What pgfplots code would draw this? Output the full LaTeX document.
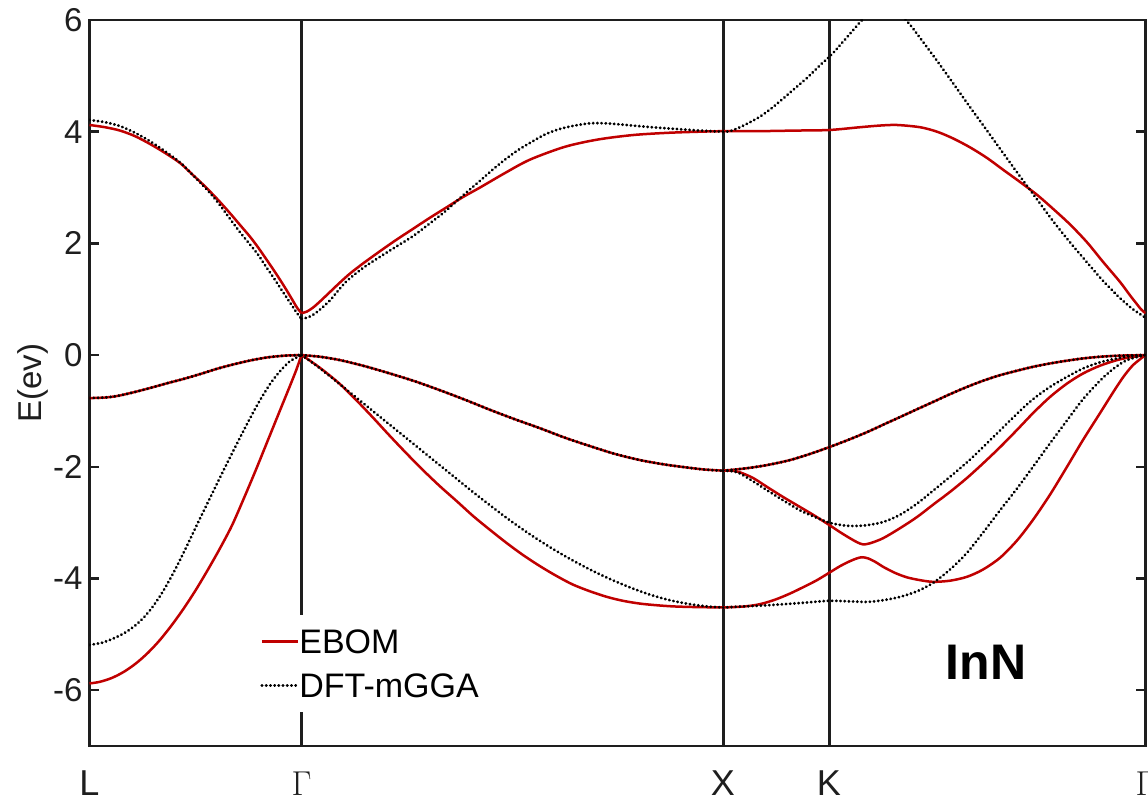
\documentclass[border=0pt]{standalone}
\usepackage{fontspec}
\setmainfont{Liberation Sans}
\usepackage{pgfplots}
\pgfplotsset{compat=1.18}
\definecolor{ebomred}{RGB}{192,0,0}
\definecolor{frame}{RGB}{30,30,30}
\tikzset{
  ebom/.style={color=ebomred, line width=1.25pt},
  dft/.style={color=black, line width=1.45pt, dash pattern=on 0.15pt off 1.95pt, line cap=round},
}
\begin{document}
\begin{tikzpicture}
\begin{axis}[
  scale only axis, width=528pt, height=363pt,
  xmin=89.5, xmax=1145.5, ymin=-7, ymax=6,
  xtick={89.5,301.5,723,829,1145.5},
  xticklabels={L,$\Gamma$,X,K,$\Gamma$},
  ytick={-6,-4,-2,0,2,4,6},
  tick align=inside, tick pos=both,
  major tick length=5pt,
  xtick style={draw=none},
  ytick style={line width=1.2pt, color=frame},
  axis line style={line width=1.4pt, color=frame},
  yticklabel style={font=\fontsize{16.5}{19}\selectfont, color=frame, /pgf/number format/assume math mode=true},
  xticklabel style={font=\fontsize{18}{21}\selectfont, color=frame, anchor=base, yshift=-24.5pt},
  every axis plot/.append style={smooth, tension=0.5},
  legend image code/.code={\draw[#1] (0pt,0pt) -- (18pt,0pt);},
  legend style={at={(0.1558,0.1804)}, anchor=north west, draw=none, fill=white,
    inner xsep=3pt, inner ysep=7pt, row sep=10.3pt,
    font=\fontsize{17}{20}\selectfont,
    nodes={inner sep=0pt, text depth=0pt},
    cells={anchor=west}},
]
\draw[line width=1.5pt, color=frame] (axis cs:301.5,-7) -- (axis cs:301.5,6);
\draw[line width=1.5pt, color=frame] (axis cs:723,-7) -- (axis cs:723,6);
\draw[line width=1.5pt, color=frame] (axis cs:829,-7) -- (axis cs:829,6);
\coordinate (yl) at (rel axis cs:0,0.5);

% ================= EBOM =================
% conduction band L-Gamma
\addplot[ebom, forget plot] table {
89.5 4.12
105 4.08
120 4.02
135 3.92
150 3.78
165 3.62
180 3.44
192 3.24
205 3.02
218 2.78
230 2.54
240 2.33
250 2.12
258 1.93
265 1.75
273 1.54
280 1.35
287 1.15
293 0.97
297 0.85
301.5 0.75
};
% conduction band Gamma-X
\addplot[ebom, forget plot] table {
301.5 0.75
307 0.78
313 0.85
320 0.96
330 1.13
340 1.30
350 1.46
363 1.64
380 1.86
396 2.06
413 2.26
430 2.46
447 2.65
463 2.83
480 3.00
505 3.26
530 3.50
565 3.73
598 3.86
633 3.94
668 3.98
700 4.00
723 4.01
};
% conduction band X-K-Gamma
\addplot[ebom, forget plot] table {
723 4.01
760 4.01
795 4.02
829 4.03
860 4.08
880 4.11
897 4.12
920 4.08
937 4.00
953 3.88
970 3.72
987 3.53
1003 3.32
1020 3.10
1037 2.87
1053 2.62
1070 2.34
1087 2.02
1103 1.67
1120 1.31
1130 1.07
1137 0.91
1141 0.82
1145.5 0.75
};
% VB1 L-Gamma
\addplot[ebom, forget plot] table {
89.5 -0.77
105 -0.76
118 -0.73
135 -0.66
152 -0.58
168 -0.50
185 -0.42
202 -0.33
218 -0.24
235 -0.16
252 -0.09
268 -0.04
285 -0.01
301.5 0
};
% VB1 Gamma-X
\addplot[ebom, forget plot] table {
301.5 0
320 -0.03
340 -0.09
365 -0.20
390 -0.33
415 -0.47
440 -0.63
465 -0.80
490 -0.98
515 -1.15
540 -1.31
565 -1.48
590 -1.63
615 -1.77
640 -1.88
665 -1.96
690 -2.02
705 -2.05
723 -2.07
};
% VB1 X-K-Gamma
\addplot[ebom, forget plot] table {
723 -2.07
745 -2.03
767 -1.97
790 -1.88
810 -1.77
829 -1.65
848 -1.52
867 -1.38
884 -1.24
900 -1.11
917 -0.97
933 -0.84
950 -0.70
967 -0.57
983 -0.46
1000 -0.36
1017 -0.28
1033 -0.21
1050 -0.15
1067 -0.10
1083 -0.06
1100 -0.03
1120 -0.01
1145.5 0
};
% VB2 X-K-Gamma
\addplot[ebom, forget plot] table {
723 -2.07
732 -2.07
740 -2.10
753 -2.20
767 -2.36
783 -2.54
800 -2.72
815 -2.88
829 -3.04
840 -3.17
850 -3.28
857 -3.35
863 -3.39
870 -3.37
883 -3.28
900 -3.10
917 -2.90
933 -2.68
950 -2.45
967 -2.20
983 -1.94
1000 -1.65
1017 -1.34
1033 -1.04
1050 -0.75
1067 -0.51
1083 -0.33
1100 -0.19
1117 -0.09
1130 -0.04
1145.5 0
};
% VB3 Gamma-X
\addplot[ebom, forget plot] table {
301.5 0
310 -0.10
323 -0.27
340 -0.52
357 -0.82
373 -1.12
390 -1.45
407 -1.77
423 -2.06
440 -2.35
457 -2.62
473 -2.88
490 -3.13
507 -3.37
523 -3.58
540 -3.78
557 -3.96
573 -4.11
590 -4.23
607 -4.33
623 -4.40
640 -4.45
657 -4.48
673 -4.50
690 -4.51
723 -4.52
};
% VB3 X-K-Gamma
\addplot[ebom, forget plot] table {
723 -4.52
745 -4.50
760 -4.46
775 -4.38
790 -4.27
805 -4.14
817 -4.03
829 -3.90
840 -3.78
850 -3.69
857 -3.64
862 -3.62
868 -3.64
876 -3.71
883 -3.79
895 -3.90
907 -3.98
920 -4.03
933 -4.06
950 -4.04
967 -3.97
983 -3.84
1000 -3.63
1017 -3.32
1033 -2.95
1050 -2.50
1067 -2.00
1083 -1.52
1100 -1.04
1113 -0.67
1123 -0.40
1133 -0.18
1145.5 0
};
% VB4 L-Gamma
\addplot[ebom, forget plot] table {
89.5 -5.88
100 -5.85
112 -5.78
124 -5.67
136 -5.52
148 -5.33
160 -5.10
172 -4.83
184 -4.53
196 -4.20
208 -3.84
220 -3.46
232 -3.05
244 -2.56
256 -2.05
268 -1.52
280 -0.99
290 -0.55
296 -0.28
301.5 0
};

% ================= DFT-mGGA =================
\addplot[dft, forget plot] table {
89.5 4.21
105 4.17
120 4.10
135 3.98
150 3.83
165 3.65
180 3.45
192 3.24
205 3.00
218 2.73
230 2.44
240 2.20
250 1.98
258 1.80
265 1.61
273 1.40
280 1.21
287 1.02
293 0.86
297 0.75
301.5 0.65
};
\addplot[dft, forget plot] table {
301.5 0.65
307 0.67
313 0.72
321 0.83
330 0.98
338 1.15
347 1.33
363 1.56
380 1.76
396 1.94
413 2.13
430 2.36
447 2.60
463 2.86
480 3.12
492 3.31
505 3.50
518 3.67
530 3.80
545 3.95
560 4.05
575 4.11
590 4.15
605 4.15
620 4.13
645 4.09
667 4.06
700 4.02
723 4.00
};
\addplot[dft, forget plot] table {
723 4.00
730 4.01
740 4.08
750 4.17
760 4.27
773 4.44
790 4.70
808 4.98
820 5.19
831 5.37
845 5.65
862 6.00
872 6.18
882 6.27
892 6.22
907 5.98
920 5.68
937 5.27
953 4.87
970 4.44
987 4.02
1003 3.62
1020 3.20
1037 2.79
1053 2.40
1070 2.02
1087 1.66
1103 1.33
1120 1.02
1133 0.82
1145.5 0.67
};
\addplot[dft, forget plot] table {
89.5 -0.77
105 -0.76
118 -0.73
135 -0.66
152 -0.58
168 -0.50
185 -0.42
202 -0.33
218 -0.24
235 -0.16
252 -0.09
268 -0.04
285 -0.01
301.5 0
};
\addplot[dft, forget plot] table {
301.5 0
320 -0.03
340 -0.09
365 -0.20
390 -0.33
415 -0.47
440 -0.63
465 -0.80
490 -0.98
515 -1.15
540 -1.31
565 -1.48
590 -1.63
615 -1.77
640 -1.88
665 -1.96
690 -2.02
705 -2.05
723 -2.07
};
\addplot[dft, forget plot] table {
723 -2.07
745 -2.03
767 -1.97
790 -1.88
810 -1.77
829 -1.65
848 -1.52
867 -1.38
884 -1.24
900 -1.11
917 -0.97
933 -0.84
950 -0.70
967 -0.57
983 -0.46
1000 -0.36
1017 -0.28
1033 -0.21
1050 -0.15
1067 -0.10
1083 -0.06
1100 -0.03
1120 -0.01
1145.5 0
};
\addplot[dft, forget plot] table {
723 -2.07
732 -2.08
740 -2.12
753 -2.26
767 -2.42
783 -2.60
800 -2.78
815 -2.90
829 -3.00
840 -3.04
850 -3.06
865 -3.05
883 -2.99
900 -2.86
917 -2.66
933 -2.43
950 -2.18
967 -1.92
983 -1.65
1000 -1.35
1017 -1.05
1033 -0.79
1050 -0.57
1067 -0.39
1083 -0.24
1100 -0.13
1117 -0.06
1130 -0.02
1145.5 0
};
\addplot[dft, forget plot] table {
301.5 0
315 -0.17
330 -0.38
350 -0.67
370 -0.96
390 -1.25
410 -1.54
430 -1.83
450 -2.12
470 -2.41
490 -2.69
510 -2.96
530 -3.21
550 -3.44
570 -3.65
590 -3.84
610 -4.01
630 -4.16
650 -4.29
670 -4.39
690 -4.46
707 -4.50
723 -4.52
};
\addplot[dft, forget plot] table {
723 -4.52
745 -4.50
767 -4.48
800 -4.44
829 -4.40
850 -4.41
867 -4.42
883 -4.39
900 -4.33
917 -4.23
933 -4.08
950 -3.84
967 -3.54
983 -3.18
1000 -2.78
1017 -2.39
1033 -2.00
1050 -1.58
1067 -1.17
1083 -0.79
1100 -0.46
1113 -0.25
1127 -0.09
1145.5 0
};
\addplot[dft, forget plot] table {
89.5 -5.19
102 -5.15
114 -5.07
126 -4.96
138 -4.80
150 -4.57
162 -4.26
174 -3.88
186 -3.45
198 -3.00
210 -2.56
222 -2.12
234 -1.69
246 -1.27
258 -0.87
270 -0.52
280 -0.29
290 -0.11
301.5 0
};

\addlegendimage{ebom}
\addlegendentry{EBOM}
\addlegendimage{dft}
\addlegendentry{DFT-mGGA}

\node[font=\bfseries\fontsize{25}{30}\selectfont, inner sep=0pt] at (axis cs:986,-5.5) {InN};
\end{axis}
\node[rotate=90, anchor=base, font=\fontsize{16.5}{19}\selectfont, color=frame] at ([xshift=-23.75pt]yl) {E(ev)};
\pgfresetboundingbox
\path ([xshift=-44.75pt,yshift=-28pt]current axis.south west) rectangle ([xshift=1.25pt,yshift=10pt]current axis.north east);
\end{tikzpicture}
\end{document}
